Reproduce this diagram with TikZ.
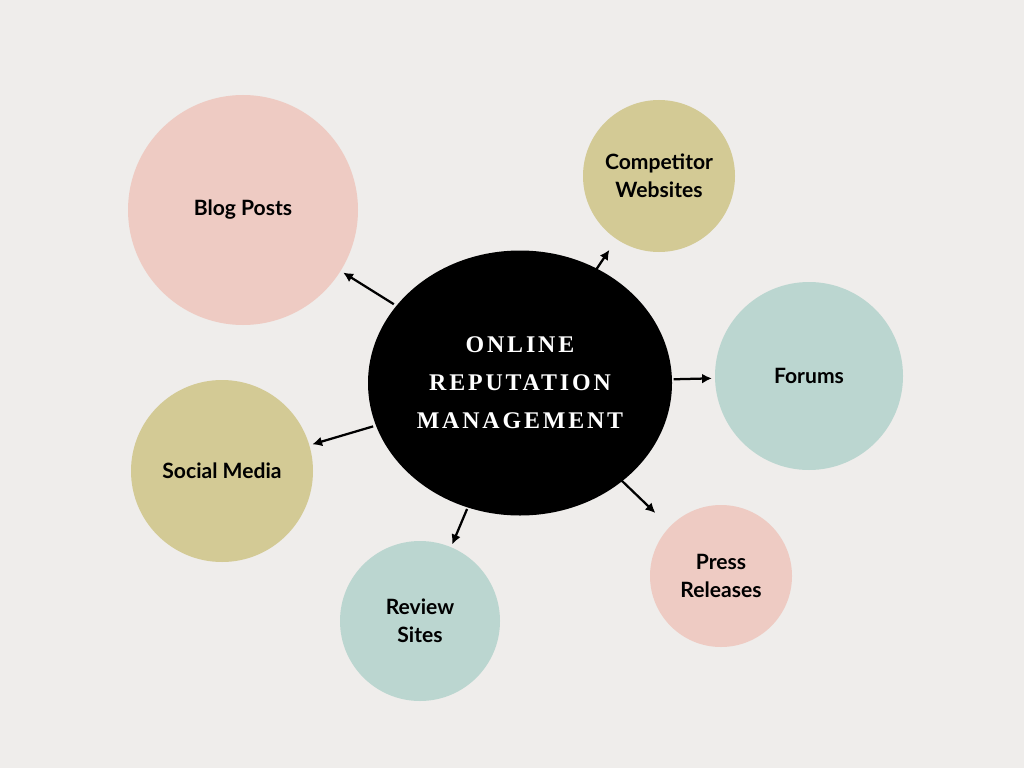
\documentclass[tikz,border=0pt]{standalone}
\usepackage{fontspec}
\setmainfont{Lato}
\newfontfamily\titlefont[LetterSpace=12]{Liberation Serif}
\definecolor{bgcol}{HTML}{EFEDEB}
\definecolor{pinkc}{HTML}{EECBC3}
\definecolor{olivec}{HTML}{D3CA95}
\definecolor{tealc}{HTML}{BBD6D0}
\usetikzlibrary{arrows.meta, shapes.geometric}
\tikzset{
  bubble/.style = {circle, draw = none, align = center, font = \fontsize{15}{20}\selectfont\bfseries},
  link/.style = {-{Latex[length=7pt,width=7pt]}, line width = 1.6pt, black},
}
\begin{document}
\begin{tikzpicture}[x=0.025cm, y=-0.025cm]
\fill[bgcol] (0,0) rectangle (1024,768);
\useasboundingbox (0,0) rectangle (1024,768);
% hub
\node[ellipse, fill = black, minimum width = 304*0.025cm, minimum height = 265*0.025cm, inner sep = 0, text = white, align = center,
  font = \fontsize{17}{27}\selectfont\bfseries\titlefont] (hub) at (520,383) {ONLINE\\REPUTATION\\MANAGEMENT};
% topics
\node[bubble, fill = pinkc, minimum size = 230*0.025cm] (blog) at (243,210) {Blog Posts};
\node[bubble, fill = olivec, minimum size = 152*0.025cm] (comp) at (659,176) {Competitor\\Websites};
\node[bubble, fill = tealc, minimum size = 188*0.025cm] (forum) at (809,376) {Forums};
\node[bubble, fill = pinkc, minimum size = 142*0.025cm] (press) at (721,576) {Press\\Releases};
\node[bubble, fill = tealc, minimum size = 160*0.025cm] (review) at (420,621) {Review\\Sites};
\node[bubble, fill = olivec, minimum size = 182*0.025cm] (social) at (222,471) {Social Media};
% links
\draw[link, shorten <= 2pt, shorten >= 2pt] (hub) -- (blog);
\draw[link, shorten <= -2pt, shorten >= 9pt] (hub) -- (comp);
\draw[link, shorten <= 1pt, shorten >= 2pt] (hub) -- (forum);
\draw[link, shorten <= -2pt, shorten >= 14pt] (hub) -- (press);
\draw[link, shorten <= 1pt, shorten >= 2pt] (hub) -- (review);
\draw[link, shorten <= 2pt, shorten >= 2pt] (hub) -- (social);
\end{tikzpicture}
\end{document}
